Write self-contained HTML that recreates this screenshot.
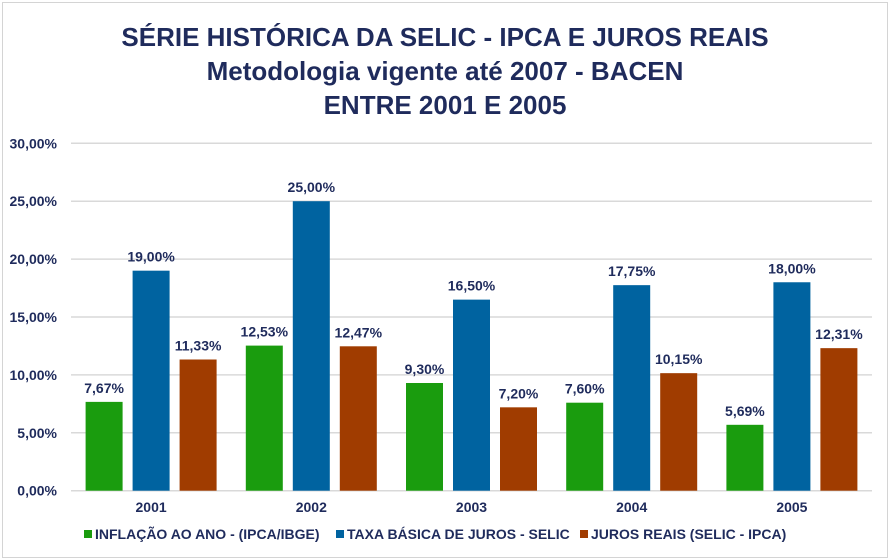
<!DOCTYPE html>
<html><head><meta charset="utf-8"><style>
body{margin:0;background:#fff;}
svg{display:block;font-family:"Liberation Sans",Arial,sans-serif;}
</style></head><body>
<svg id="chart" width="890" height="560" viewBox="0 0 890 560">
<rect x="2.5" y="2.5" width="885" height="555" fill="#fff" stroke="#d4d4d4"/>
<g fill="#1f2b5c" font-weight="bold" font-size="26" text-anchor="middle">
<text x="445" y="46">SÉRIE HISTÓRICA DA SELIC - IPCA E JUROS REAIS</text>
<text x="445" y="80">Metodologia vigente até 2007 - BACEN</text>
<text x="445" y="114">ENTRE 2001 E 2005</text>
</g>
<g id="grid"></g><g id="bars"></g><g id="labels"></g>
<g font-size="14" font-weight="bold" fill="#1f2b5c">
<rect x="84" y="530" width="8" height="8" fill="#1a9c0e"/>
<text x="95" y="539">INFLAÇÃO AO ANO - (IPCA/IBGE)</text>
<rect x="336" y="530" width="8" height="8" fill="#0063a0"/>
<text x="347" y="539">TAXA BÁSICA DE JUROS - SELIC</text>
<rect x="580" y="530" width="8" height="8" fill="#a03c00"/>
<text x="591" y="539">JUROS REAIS (SELIC - IPCA)</text>
</g>
</svg>
<script>
const categories=["2001","2002","2003","2004","2005"];
const inflacao=[7.67,12.53,9.30,7.60,5.69];
const selic=[19.00,25.00,16.50,17.75,18.00];
const jurosReais=[11.33,12.47,7.20,10.15,12.31];
const ticks=[0,5,10,15,20,25,30];
const NS="http://www.w3.org/2000/svg";
const L=71,R=872,T=143.3,B=490.7,MAX=30;
const y=v=>B-(v/MAX)*(B-T);
const cw=(R-L)/categories.length;
const xc=i=>L+cw*(i+0.5);
const fmt=v=>v.toFixed(2).replace('.',',')+'%';
function mk(tag,attrs,parent){const e=document.createElementNS(NS,tag);for(const k in attrs)e.setAttribute(k,attrs[k]);document.getElementById(parent).appendChild(e);return e;}
ticks.forEach(t=>{
  const l=mk('line',{x1:L,x2:R,y1:y(t),y2:y(t),stroke:'#d9d9d9','stroke-width':1.5},'grid');
  
  
  const tx=mk('text',{x:57,y:y(t)+5,'text-anchor':'end','font-size':14,'font-weight':'bold',fill:'#1f2b5c'},'grid');
  tx.textContent=fmt(t);
  
  
});
const series=[[inflacao,'#1a9c0e','inflacao'],[selic,'#0063a0','selic'],[jurosReais,'#a03c00','juros-reais']];
const bw=37,step=47;
categories.forEach((c,i)=>{
  series.forEach(([arr,col,nm],s)=>{
    const v=arr[i];const bx=xc(i)+(s-1)*step-bw/2;
    const r=mk('rect',{x:bx,y:y(v),width:bw,height:B-y(v),fill:col},'bars');
    
    
    const t=mk('text',{x:bx+bw/2,y:y(v)-9,'text-anchor':'middle','font-size':14,'font-weight':'bold',fill:'#1f2b5c'},'labels');
    t.textContent=fmt(v);
    
    
  });
  const xl=mk('text',{x:xc(i),y:512,'text-anchor':'middle','font-size':14,'font-weight':'bold',fill:'#1f2b5c'},'labels');
  xl.textContent=c;
  
  
});
</script>
</body></html>
